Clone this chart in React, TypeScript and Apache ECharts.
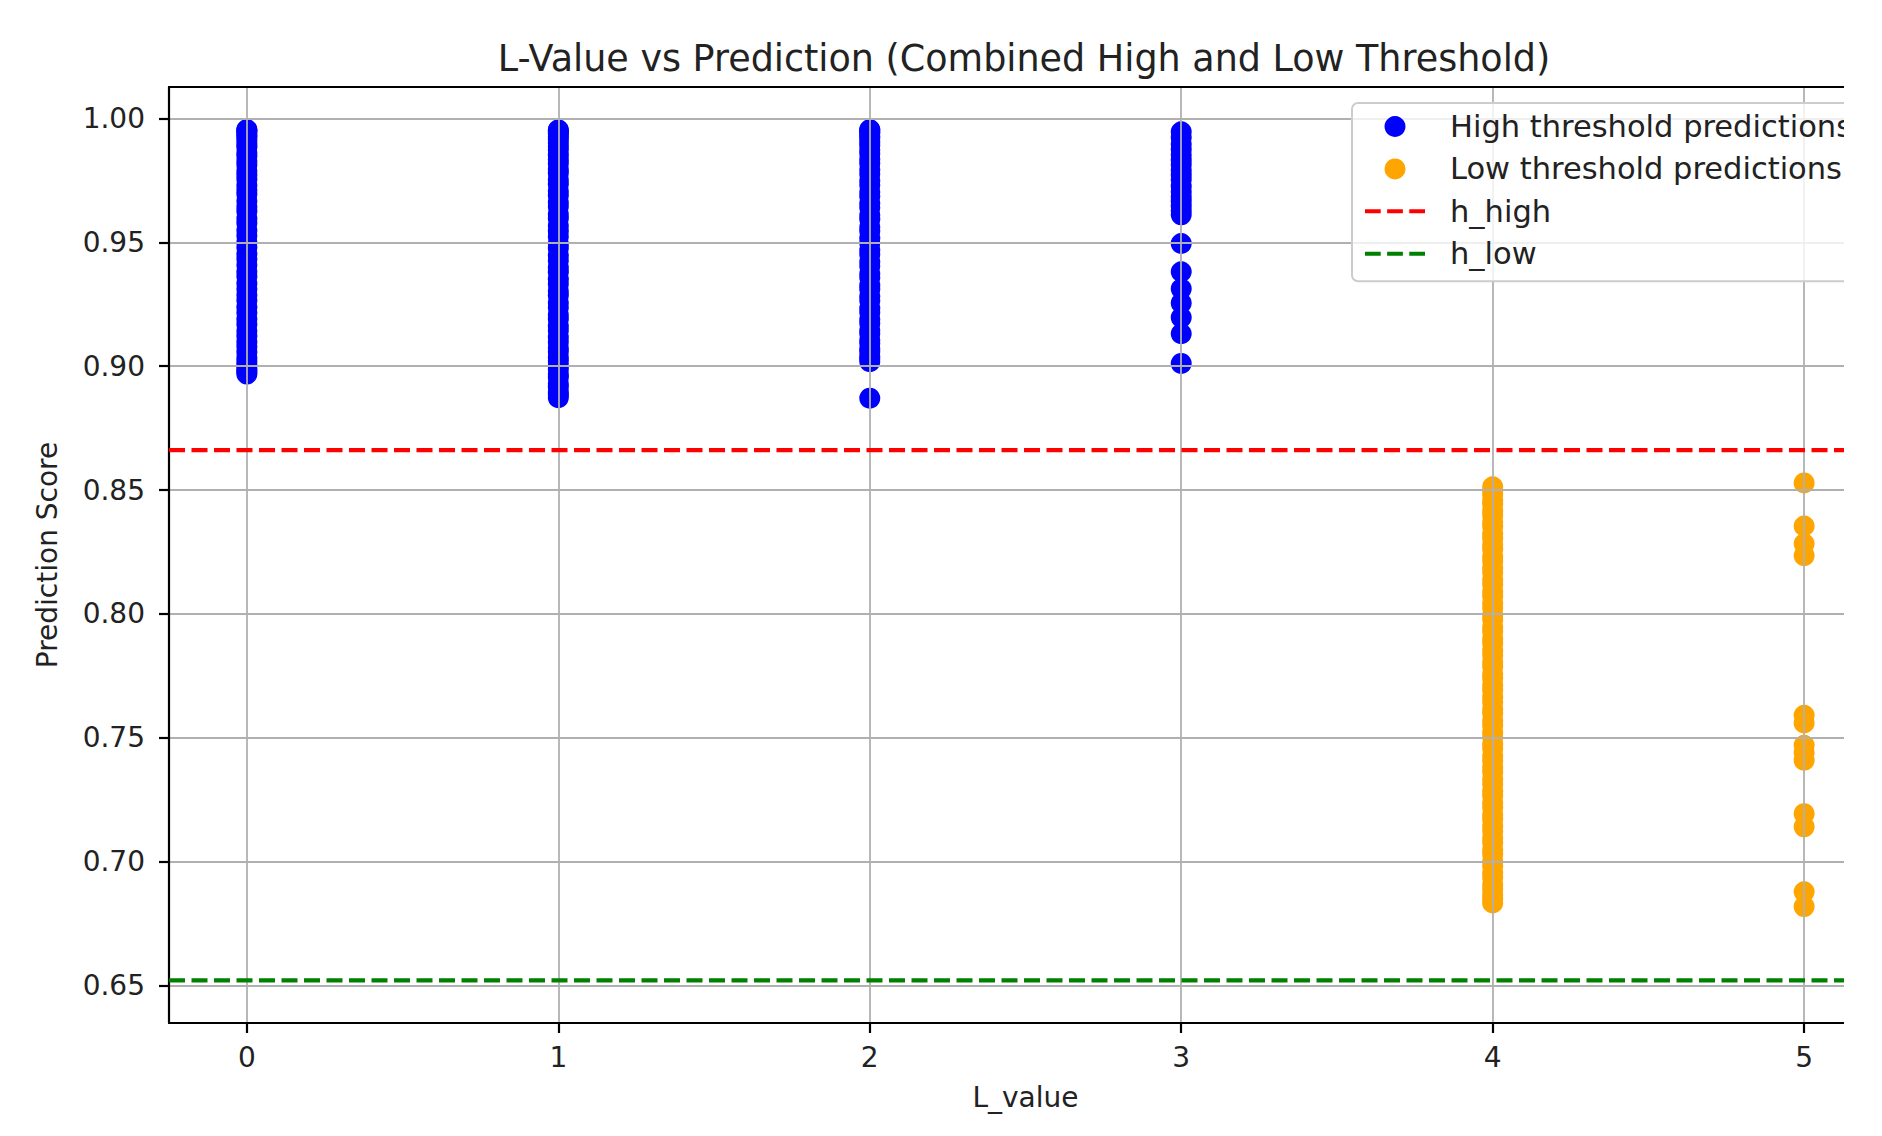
import React, { useEffect, useRef } from "react";
import * as echarts from "echarts";

const TITLE = "L-Value vs Prediction (Combined High and Low Threshold)";
const X_NAME = "L_value";
const Y_NAME = "Prediction Score";
const SERIES_HIGH = "High threshold predictions";
const SERIES_LOW = "Low threshold predictions";
const NAME_H_HIGH = "h_high";
const NAME_H_LOW = "h_low";

const X_TICKS = [0, 1, 2, 3, 4, 5];
const Y_TICKS = [0.65, 0.7, 0.75, 0.8, 0.85, 0.9, 0.95, 1.0];

const H_HIGH = 0.8661;
const H_LOW = 0.6521;

// High threshold predictions (L_value 0..3)
const highL0 = [0.9955, 0.9953, 0.9949, 0.9942, 0.9931, 0.9924, 0.9911, 0.9896, 0.9884, 0.9861, 0.9847, 0.9826, 0.9812, 0.9788, 0.9771, 0.9753, 0.9729, 0.9711, 0.9694, 0.9667, 0.9643, 0.9625, 0.9596, 0.9577, 0.9548, 0.9526, 0.9501, 0.9479, 0.9452, 0.9433, 0.9408, 0.9381, 0.9362, 0.9334, 0.9311, 0.9287, 0.9265, 0.9238, 0.9216, 0.9189, 0.9168, 0.9142, 0.9121, 0.9097, 0.9078, 0.9056, 0.9034, 0.9019, 0.9006, 0.8993, 0.8985, 0.8976, 0.8968];
const highL1 = [0.9954, 0.9950, 0.9943, 0.9937, 0.9926, 0.9915, 0.9901, 0.9886, 0.9872, 0.9851, 0.9833, 0.9818, 0.9794, 0.9779, 0.9752, 0.9734, 0.9707, 0.9689, 0.9661, 0.9643, 0.9614, 0.9596, 0.9567, 0.9545, 0.9522, 0.9494, 0.9476, 0.9447, 0.9426, 0.9398, 0.9379, 0.9351, 0.9332, 0.9303, 0.9285, 0.9256, 0.9236, 0.9208, 0.9189, 0.9161, 0.9143, 0.9117, 0.9098, 0.9073, 0.9058, 0.9035, 0.9021, 0.9002, 0.8989, 0.8966, 0.8954, 0.8929, 0.8915, 0.8894, 0.8885, 0.8873];
const highL2 = [0.9955, 0.9952, 0.9945, 0.9940, 0.9929, 0.9920, 0.9904, 0.9891, 0.9872, 0.9857, 0.9834, 0.9818, 0.9793, 0.9776, 0.9748, 0.9731, 0.9703, 0.9685, 0.9657, 0.9639, 0.9610, 0.9593, 0.9562, 0.9545, 0.9516, 0.9497, 0.9468, 0.9451, 0.9421, 0.9404, 0.9373, 0.9357, 0.9327, 0.9310, 0.9281, 0.9264, 0.9234, 0.9217, 0.9188, 0.9172, 0.9144, 0.9131, 0.9106, 0.9092, 0.9068, 0.9058, 0.9039, 0.9030, 0.9018, 0.8871];
const highL3 = [0.9946, 0.9923, 0.9897, 0.9874, 0.9852, 0.9831, 0.9813, 0.9790, 0.9771, 0.9752, 0.9726, 0.9704, 0.9684, 0.9666, 0.9645, 0.9627, 0.9611, 0.9495, 0.9381, 0.9312, 0.9255, 0.9196, 0.9131, 0.9011];

// Low threshold predictions (L_value 4..5)
const lowL4 = [0.8513, 0.8497, 0.8482, 0.8458, 0.8443, 0.8416, 0.8399, 0.8371, 0.8353, 0.8324, 0.8306, 0.8279, 0.8261, 0.8231, 0.8214, 0.8185, 0.8166, 0.8138, 0.8119, 0.8090, 0.8072, 0.8042, 0.8024, 0.7995, 0.7977, 0.7947, 0.7929, 0.7900, 0.7882, 0.7853, 0.7834, 0.7806, 0.7787, 0.7758, 0.7740, 0.7711, 0.7692, 0.7664, 0.7645, 0.7616, 0.7598, 0.7569, 0.7550, 0.7522, 0.7503, 0.7474, 0.7456, 0.7427, 0.7408, 0.7380, 0.7361, 0.7332, 0.7314, 0.7285, 0.7266, 0.7238, 0.7219, 0.7190, 0.7172, 0.7143, 0.7124, 0.7096, 0.7077, 0.7048, 0.7030, 0.7001, 0.6983, 0.6954, 0.6935, 0.6907, 0.6888, 0.6866, 0.6849, 0.6834];
const lowL5 = [0.8529, 0.8355, 0.8283, 0.8235, 0.7591, 0.7560, 0.7470, 0.7440, 0.7410, 0.7194, 0.7141, 0.6879, 0.6819];

const FONT = "'DejaVu Sans', sans-serif";
const TEXT_COLOR = "#222222";

const pairs = (x: number, vals: number[]) => vals.map((v) => [x, v]);

const highData = [
  ...pairs(0, highL0),
  ...pairs(1, highL1),
  ...pairs(2, highL2),
  ...pairs(3, highL3),
];
const lowData = [...pairs(4, lowL4), ...pairs(5, lowL5)];

// matplotlib-style autoscaling (5% margins), x range cropped on the right
const allY = [...highL0, ...highL1, ...highL2, ...highL3, ...lowL4, ...lowL5, H_HIGH, H_LOW];
const yLo = Math.min(...allY);
const yHi = Math.max(...allY);
const Y_MIN = yLo - 0.05 * (yHi - yLo);
const Y_MAX = yHi + 0.05 * (yHi - yLo);
const X_MIN = -0.25;
const X_MAX = 5.128;
const X_LINE_END = 5.25;

const DASH_ICON = "path://M0,0h16v4h-16z M22.5,0h16v4h-16z M45,0h16v4h-16z";

export default function App() {
  const ref = useRef<HTMLDivElement>(null);

  useEffect(() => {
    if (!ref.current) return;
    const chart = echarts.init(ref.current, null, { renderer: "svg" });
    const spine = { color: "#000000", width: 2.2 };
    const option = {
      animation: false,
      backgroundColor: "#ffffff",
      title: {
        text: TITLE,
        left: 1019,
        top: 35,
        textAlign: "center",
        textStyle: { fontSize: 36.5, fontWeight: "normal", fontFamily: FONT, color: TEXT_COLOR },
      },
      legend: {
        orient: "vertical",
        left: 1352,
        top: 103,
        itemWidth: 60,
        itemHeight: 21,
        itemGap: 11.4,
        padding: [8, 80, 12, 13],
        backgroundColor: "rgba(255,255,255,0.8)",
        borderColor: "#cccccc",
        borderWidth: 2,
        borderRadius: 6,
        selectedMode: false,
        z: 10,
        textStyle: { fontSize: 30.5, fontFamily: FONT, color: TEXT_COLOR, padding: [0, 0, 0, 20], lineHeight: 30 },
        data: [
          { name: SERIES_HIGH, icon: "circle" },
          { name: SERIES_LOW, icon: "circle" },
          { name: NAME_H_HIGH, icon: DASH_ICON },
          { name: NAME_H_LOW, icon: DASH_ICON },
        ],
      },
      // the reference image is cropped on the right: blank strip beyond the axes
      graphic: [
        {
          type: "rect",
          right: 0,
          top: 0,
          z: 100,
          silent: true,
          shape: { width: 38, height: 1136 },
          style: { fill: "#ffffff" },
        },
      ],
      grid: { left: 169, right: 38, top: 87, bottom: 113 },
      xAxis: [
        {
          type: "value",
          min: X_MIN,
          max: X_MAX,
          position: "bottom",
          splitNumber: 5,
          name: X_NAME,
          nameLocation: "middle",
          nameGap: 60,
          nameTextStyle: { fontSize: 28, fontFamily: FONT, color: TEXT_COLOR, padding: [0, 0, 0, 38] },
          axisLine: { show: true, onZero: false, lineStyle: spine },
          axisTick: { show: true, length: 10, lineStyle: spine, customValues: X_TICKS },
          axisLabel: {
            customValues: X_TICKS,
            margin: 20,
            fontSize: 28,
            fontFamily: FONT,
            color: TEXT_COLOR,
            formatter: (v: number) => String(v),
          },
          splitLine: { show: true, lineStyle: { color: "#b0b0b0", width: 1.8 } },
          z: 5,
        },
        {
          type: "value",
          min: X_MIN,
          max: X_MAX,
          position: "top",
          axisLine: { show: true, onZero: false, lineStyle: spine },
          axisTick: { show: false },
          axisLabel: { show: false },
          splitLine: { show: false },
          z: 5,
        },
      ],
      yAxis: {
        type: "value",
        min: Y_MIN,
        max: Y_MAX,
        splitNumber: 8,
        name: Y_NAME,
        nameLocation: "middle",
        nameRotate: 90,
        nameGap: 108,
        nameTextStyle: { fontSize: 28, fontFamily: FONT, color: TEXT_COLOR },
        axisLine: { show: true, onZero: false, lineStyle: spine },
        axisTick: { show: true, length: 10, lineStyle: spine, customValues: Y_TICKS },
        axisLabel: {
          customValues: Y_TICKS,
          margin: 24,
          fontSize: 28,
          fontFamily: FONT,
          color: TEXT_COLOR,
          formatter: (v: number) => v.toFixed(2),
        },
        splitLine: { show: true, lineStyle: { color: "#b0b0b0", width: 1.8 } },
        z: 5,
      },
      series: [
        {
          type: "scatter",
          name: SERIES_HIGH,
          data: highData,
          symbol: "circle",
          symbolSize: 21,
          itemStyle: { color: "#0000ff", opacity: 1 },
          z: 2,
          silent: true,
        },
        {
          type: "scatter",
          name: SERIES_LOW,
          data: lowData,
          symbol: "circle",
          symbolSize: 21,
          itemStyle: { color: "#ffa500", opacity: 1 },
          z: 2,
          silent: true,
        },
        {
          type: "line",
          name: NAME_H_HIGH,
          data: [
            [X_MIN, H_HIGH],
            [X_LINE_END, H_HIGH],
          ],
          symbol: "none",
          clip: true,
          lineStyle: { color: "#ff0000", width: 4.2, type: [16, 6.5] },
          itemStyle: { color: "#ff0000" },
          z: 6,
          silent: true,
        },
        {
          type: "line",
          name: NAME_H_LOW,
          data: [
            [X_MIN, H_LOW],
            [X_LINE_END, H_LOW],
          ],
          symbol: "none",
          clip: true,
          lineStyle: { color: "#008000", width: 4.2, type: [16, 6.5] },
          itemStyle: { color: "#008000" },
          z: 6,
          silent: true,
        },
      ],
    };
    chart.setOption(option as any);
    return () => chart.dispose();
  }, []);

  return (
    <div
      ref={ref}
      style={{ position: "fixed", left: 0, top: 0, width: 1882, height: 1136, background: "#ffffff" }}
    />
  );
}
